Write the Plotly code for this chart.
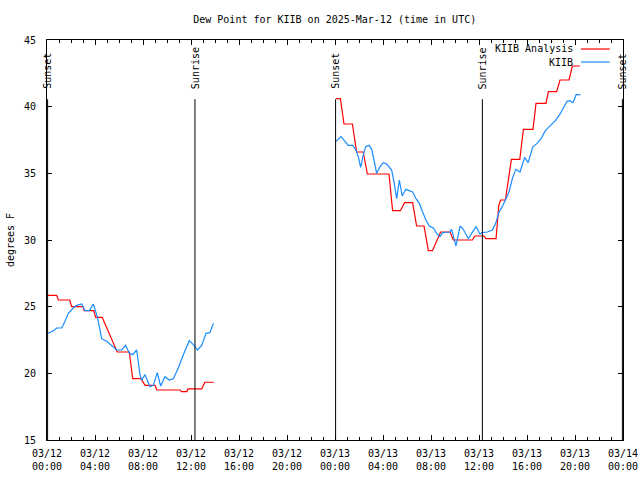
import pandas as pd
import plotly.graph_objects as go

BASE = pd.Timestamp("2025-03-12 00:00")

# Analysis (red): hours since 03/12 00:00 UTC, dew point (F); None = gap
analysis_hours = [0.0, 0.8, 0.95, 1.9, 2.05, 3.0, 3.1, 3.9, 4.05, 4.6, 5.85, 6.86, 7.14, 7.83,
                  8.17, 9.0, 9.15, 11.1, 11.2, 11.65, 11.75, 12.9, 13.15, 13.9,
                  None,
                  24.08, 24.45, 24.75, 25.45, 25.8, 26.35, 26.7, 28.5, 28.8, 29.45, 29.8, 30.47,
                  30.8, 31.42, 31.78, 32.12, 32.8, 33.6, 33.85, 35.45, 35.65, 36.4, 36.6, 37.42,
                  37.65, 37.8, 38.2, 38.7, 39.4, 39.7, 40.5, 40.75, 41.58, 41.78, 42.47, 42.75,
                  43.5, 43.78, 44.42]
analysis_vals = [25.85, 25.85, 25.5, 25.5, 25.0, 25.0, 24.7, 24.7, 24.2, 24.2, 21.6, 21.6, 19.6, 19.6,
                 19.1, 19.1, 18.75, 18.75, 18.63, 18.63, 18.83, 18.83, 19.33, 19.33,
                 None,
                 40.6, 40.6, 38.7, 38.7, 36.6, 36.6, 34.95, 34.95, 32.2, 32.2, 32.8, 32.8,
                 31.05, 31.05, 29.2, 29.2, 30.6, 30.6, 30.0, 30.0, 30.3, 30.3, 30.1, 30.1,
                 32.6, 33.0, 33.0, 36.05, 36.05, 38.3, 38.3, 40.25, 40.25, 41.13, 41.13, 42.0,
                 42.0, 43.05, 43.05]

# Observations KIIB (blue)
obs_hours = [0.1, 0.53, 0.81, 1.22, 1.5, 1.78, 2.19, 2.47, 2.89, 3.17, 3.53, 3.86, 4.19, 4.56,
             4.97, 5.39, 5.81, 6.22, 6.56, 6.86, 7.14, 7.47, 7.75, 7.89, 8.17, 8.58, 8.86, 9.19,
             9.47, 9.83, 10.19, 10.53, 10.94, 11.36, 11.86, 12.25, 12.53, 12.89, 13.25, 13.58, 13.86,
             None,
             24.08, 24.5, 24.83, 25.1, 25.47, 25.75, 25.94, 26.14, 26.36, 26.55, 26.83, 27.06,
             27.25, 27.47, 27.75, 28.03, 28.3, 28.53, 28.72, 28.94, 29.14, 29.36, 29.6, 29.9,
             30.47, 30.75, 31.03, 31.3, 31.58, 31.86, 32.19, 32.47, 32.75, 32.97, 33.31, 33.58,
             33.72, 33.92, 34.08, 34.28, 34.42, 34.69, 35.11, 35.39, 35.75, 36.08, 36.25, 36.69,
             37.11, 37.39, 37.67, 37.94, 38.22, 38.5, 38.78, 39.06, 39.42, 39.69, 39.8, 40.1,
             40.47, 40.83, 41.17, 41.53, 41.94, 42.36, 42.72, 43.06, 43.33, 43.56, 43.83, 44.1, 44.44]
obs_vals = [23.0, 23.2, 23.4, 23.4, 23.9, 24.5, 24.9, 25.1, 25.2, 24.7, 24.7, 25.2, 24.25, 22.6,
            22.4, 22.1, 21.75, 21.75, 22.1, 21.5, 21.4, 21.75, 19.9, 19.5, 19.9, 19.0, 19.1, 20.05,
            19.05, 19.75, 19.5, 19.6, 20.4, 21.4, 22.45, 22.1, 21.75, 22.1, 23.0, 23.05, 23.75,
            None,
            37.4, 37.75, 37.4, 37.1, 37.1, 36.75, 36.25, 35.45, 36.4, 37.0, 37.1, 36.8,
            36.0, 35.0, 35.5, 35.8, 35.7, 35.45, 35.25, 34.25, 33.1, 34.5, 33.3, 33.8,
            33.6, 33.1, 32.75, 32.1, 31.5, 31.05, 30.9, 30.5, 30.25, 30.55, 30.6, 30.6,
            30.8, 30.1, 29.55, 30.4, 31.05, 30.8, 30.1, 30.5, 31.0, 30.45, 30.55, 30.6,
            30.75, 31.25, 32.1, 32.5, 33.05, 33.6, 34.6, 35.3, 35.1, 36.0, 36.2, 35.8,
            36.95, 37.25, 37.6, 38.2, 38.55, 38.95, 39.4, 39.9, 40.4, 40.45, 40.3, 40.9, 40.9]

# Sun events
event_labels = ["Sunset", "Sunrise", "Sunset", "Sunrise", "Sunset"]
event_hours = [0.05, 12.33, 24.05, 36.28, 47.95]

series_names = ["KIIB Analysis", "KIIB"]
series_colors = ["#ff0000", "#1a8cff"]


def to_time(hours):
    return [None if h is None else BASE + pd.Timedelta(hours=h) for h in hours]


FONT = "DejaVu Sans Mono"

fig = go.Figure()
fig.add_trace(go.Scatter(x=to_time(analysis_hours), y=analysis_vals, mode="lines",
                         name=series_names[0], line=dict(color=series_colors[0], width=1.2),
                         connectgaps=False, showlegend=False))
fig.add_trace(go.Scatter(x=to_time(obs_hours), y=obs_vals, mode="lines",
                         name=series_names[1], line=dict(color=series_colors[1], width=1.2),
                         connectgaps=False, showlegend=False))

for lab, h in zip(event_labels, event_hours):
    t = BASE + pd.Timedelta(hours=h)
    fig.add_shape(type="line", xref="x", yref="paper", x0=t, x1=t, y0=0, y1=0.852,
                  line=dict(color="black", width=1))
    fig.add_annotation(x=t, xref="x", y=0.872, yref="paper", text=lab, textangle=-90,
                       showarrow=False, xanchor="center", yanchor="bottom",
                       font=dict(family=FONT, size=10, color="black"))

# Gnuplot-style legend (text left, sample right)
leg_y = [0.9775, 0.945]
for name, col, yy in zip(series_names, series_colors, leg_y):
    fig.add_annotation(x=0.9167, xref="paper", y=yy, yref="paper", text=name,
                       showarrow=False, xanchor="right", yanchor="middle",
                       font=dict(family=FONT, size=10, color="black"))
    fig.add_shape(type="line", xref="paper", yref="paper", x0=0.927, x1=0.977, y0=yy, y1=yy,
                  line=dict(color=col, width=1.2))

fig.update_layout(
    width=640, height=480,
    margin=dict(l=47, r=17, t=40, b=40, autoexpand=False),
    paper_bgcolor="white", plot_bgcolor="white",
    font=dict(family=FONT, size=10, color="black"),
    title=dict(text="Dew Point for KIIB on 2025-Mar-12 (time in UTC)", x=0.523, xanchor="center",
               y=0.96, yanchor="middle", font=dict(family=FONT, size=10, color="black")),
    showlegend=False,
)
fig.update_xaxes(
    type="date", range=[BASE, BASE + pd.Timedelta(hours=48)], automargin=False,
    tick0=BASE, dtick=4 * 3600 * 1000, tickformat="%m/%d<br>%H:%M",
    ticks="inside", ticklen=5, tickcolor="black", tickwidth=1,
    minor=dict(dtick=3600 * 1000, ticks="inside", ticklen=3, tickcolor="black", showgrid=False),
    showline=True, linecolor="black", linewidth=1, mirror="ticks",
    showgrid=False, zeroline=False, ticklabelstandoff=4,
    tickfont=dict(family=FONT, size=10, color="black"),
)
fig.update_yaxes(
    range=[15, 45], tick0=15, dtick=5, automargin=False,
    ticks="inside", ticklen=5, tickcolor="black", tickwidth=1,
    showline=True, linecolor="black", linewidth=1, mirror="ticks",
    showgrid=False, zeroline=False, ticklabelstandoff=8,
    title=dict(text="degrees F", standoff=7, font=dict(family=FONT, size=10, color="black")),
    tickfont=dict(family=FONT, size=10, color="black"),
)

fig.write_html("out.html", config={"displayModeBar": False},
               post_script="document.body.style.margin='0';")
